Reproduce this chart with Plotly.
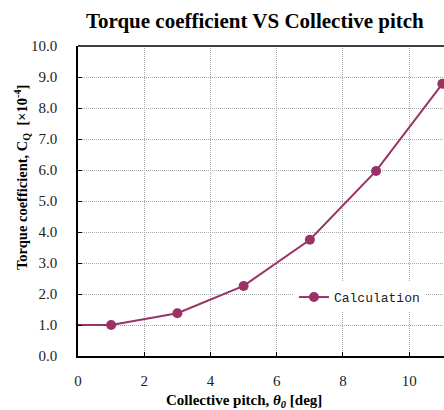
import plotly.graph_objects as go

# Collective pitch [deg] and torque coefficient C_Q [x10^-4]
pitch = [1, 3, 5, 7, 9, 11]
cq = [1.00, 1.38, 2.26, 3.75, 5.97, 8.78]

# Line continues from the axis at the first value
lead_pitch = [-0.15, 1]
lead_cq = [1.00, 1.00]

x_ticks = [0, 2, 4, 6, 8, 10]
y_ticks = [0, 1, 2, 3, 4, 5, 6, 7, 8, 9, 10]

color = "#993366"
serif = "Liberation Serif"
tick_font = dict(family=serif, size=15, color="#222222")

fig = go.Figure()
fig.add_trace(go.Scatter(
    x=lead_pitch, y=lead_cq, mode="lines",
    line=dict(color=color, width=2), showlegend=False, cliponaxis=False,
    hoverinfo="skip",
))
fig.add_trace(go.Scatter(
    x=pitch, y=cq, mode="lines+markers", name="Calculation",
    line=dict(color=color, width=2),
    marker=dict(color=color, size=10),
    cliponaxis=False,
))

fig.update_layout(
    width=444, height=410,
    margin=dict(l=78, r=0, t=46, b=54),
    paper_bgcolor="white", plot_bgcolor="white",
    font=dict(family=serif, size=14, color="#222222"),
    title=dict(
        text="<b>Torque coefficient VS Collective pitch</b>",
        font=dict(family=serif, size=21, color="black"),
        x=0.574, xanchor="center", y=0.95, yanchor="middle",
    ),
    xaxis=dict(
        range=[0, 11.05], tickvals=x_ticks, ticktext=[str(v) for v in x_ticks],
        showgrid=True, gridcolor="#a8a8a8", gridwidth=1, griddash="1px,1px",
        showline=True, linecolor="black", linewidth=1.5, mirror=False,
        ticks="inside", ticklen=4, tickcolor="black",
        tickfont=tick_font,
        ticklabelstandoff=10,
        zeroline=False,
    ),
    yaxis=dict(
        range=[0, 10], tickvals=y_ticks, tickformat=".1f",
        showgrid=True, gridcolor="#a8a8a8", gridwidth=1, griddash="1px,1px",
        showline=True, linecolor="black", linewidth=1.5,
        ticks="inside", ticklen=4, tickcolor="black",
        tickfont=tick_font,
        ticklabelstandoff=16,
        zeroline=False,
    ),
    legend=dict(
        x=0.59, y=0.19, xanchor="left", yanchor="middle",
        bgcolor="white", borderwidth=0,
        font=dict(family="Liberation Mono", size=13, color="#222222"),
        itemwidth=30,
    ),
    showlegend=True,
)

# Axis titles
fig.add_annotation(
    text="<b>Collective pitch, <i>θ<sub>0</sub></i> [deg]</b>",
    xref="paper", yref="paper", x=(244 - 78) / 366, y=-(401 - 356) / 310,
    xanchor="center", yanchor="middle", showarrow=False,
    font=dict(family=serif, size=15, color="black"),
)
fig.add_annotation(
    text="<b>Torque coefficient, C<sub>Q</sub>  [×10<sup>-4</sup>]</b>",
    xref="paper", yref="paper", x=-(78 - 22) / 366, y=(356 - 178) / 310,
    xanchor="center", yanchor="middle", showarrow=False, textangle=-90,
    font=dict(family=serif, size=14.5, color="black"),
)

# Top border of the plot area
fig.add_shape(type="line", xref="paper", yref="paper", x0=0, x1=1, y0=1, y1=1,
              line=dict(color="black", width=1.5))

fig.write_html("out.html")
